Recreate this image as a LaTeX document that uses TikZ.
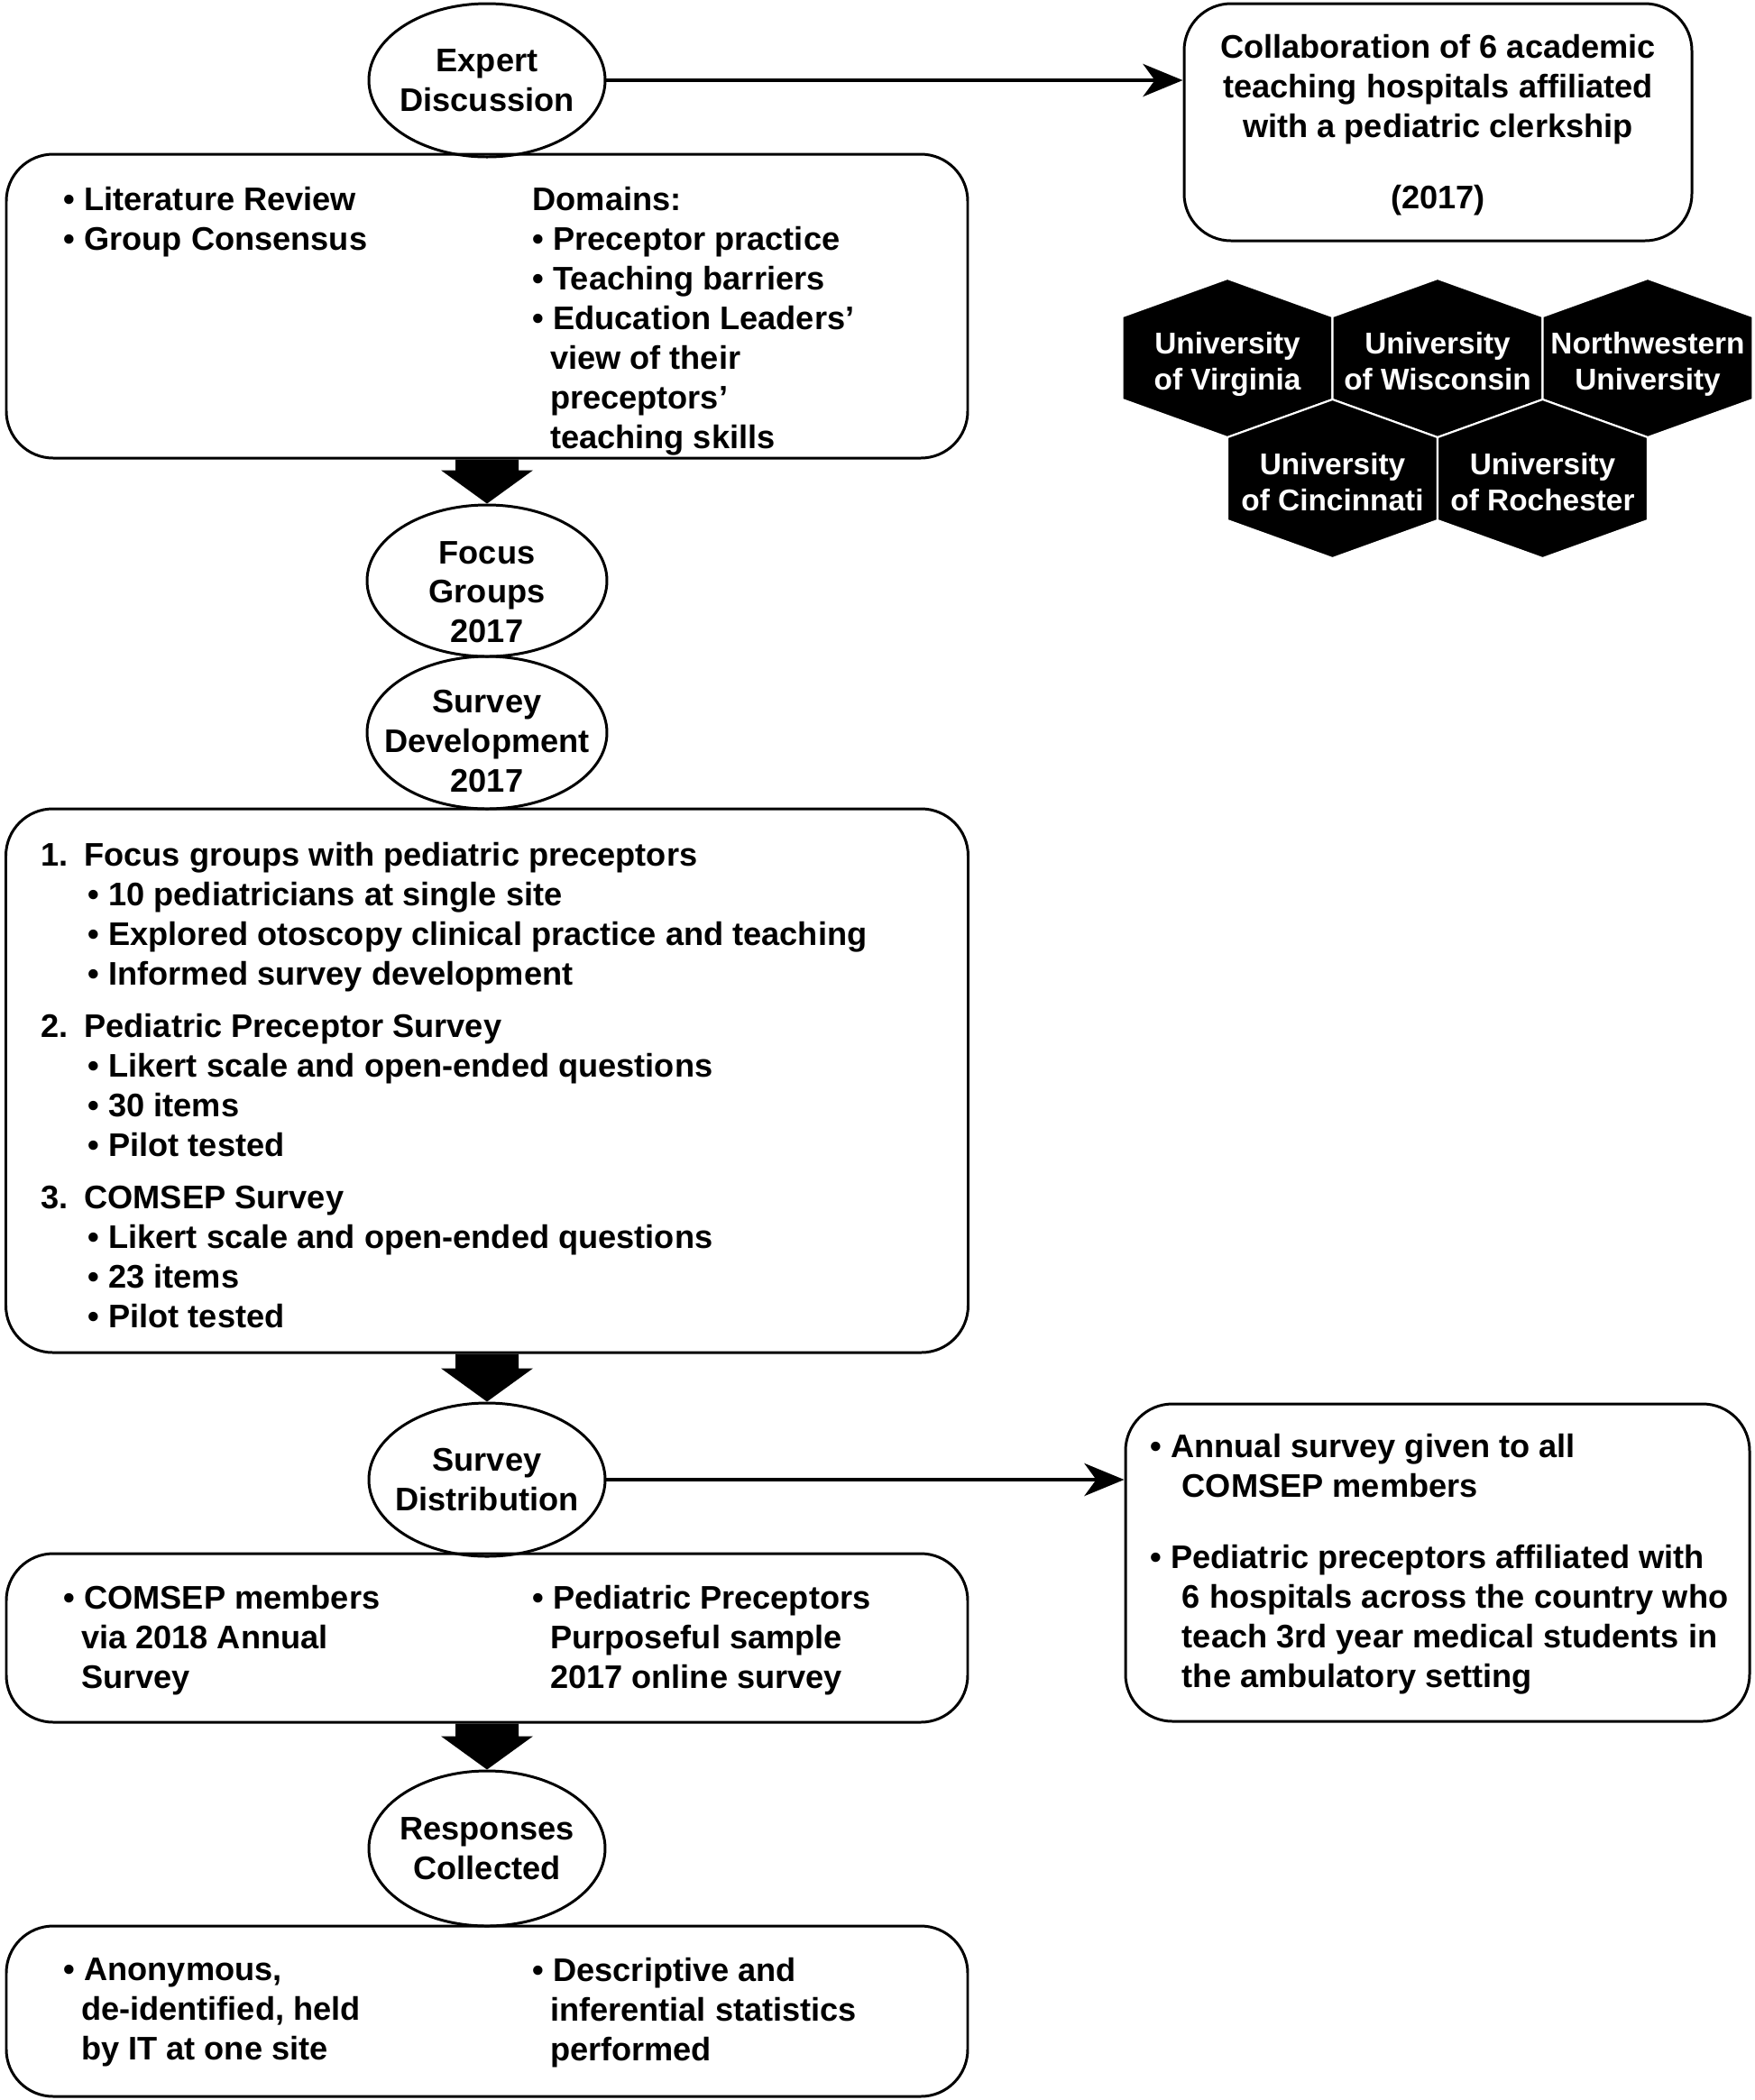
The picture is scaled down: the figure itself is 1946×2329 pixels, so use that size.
\documentclass[tikz,border=0pt]{standalone}
\usepackage{fontspec}
\setmainfont{Liberation Sans}
\usetikzlibrary{shapes.geometric,arrows.meta,calc}

\newcommand{\bpt}{\textbullet\ }
\newcommand{\bcont}{\hspace*{5.5pt}}
\newcommand{\blockarrow}[2]{%
    \fill ($(#1)+(-35,0)$) -- ($(#2)+(-35,-37)$) -- ($(#2)+(-51,-37)$) -- (#2)
        -- ($(#2)+(51,-37)$) -- ($(#2)+(35,-37)$) -- ($(#1)+(35,0)$) -- cycle;}

\tikzset{
    panel/.style={draw, line width=0.85pt, rounded corners=5.2mm, inner sep=0pt},
    bubble/.style={draw, ellipse, line width=0.85pt, inner sep=-2mm, align=center},
    txt/.style={anchor=north west, inner sep=0pt, align=left},
    hexcell/.style={fill=black, draw=white, line width=0.6pt},
    hexlabel/.style={text=white, align=center, anchor=north, inner sep=0pt, font=\bfseries\fontsize{9.5}{11.4}\selectfont},
    flow/.style={line width=1.4pt, -{Stealth[length=4.4mm, width=3.6mm, inset=1.3mm]}}
}

\begin{document}
\begin{tikzpicture}[x=0.1mm, y=-0.1mm, font=\bfseries\fontsize{10.3}{12.5}\selectfont]
            \useasboundingbox (0,0) rectangle (1946,2329);

            \node[bubble, minimum width=26.2mm, minimum height=17mm] (exp) at (540,89) {Expert\\Discussion};
            \node[panel, minimum width=106.6mm, minimum height=33.7mm] (lit) at (540,339.5) {};
            \node[txt] (litl) at (70,207) {\bpt Literature Review\\\bpt Group Consensus};
            \node[txt] (litr) at (590,207) {Domains:\\\bpt Preceptor practice\\\bpt Teaching barriers\\\bpt Education Leaders’\\\bcont view of their\\\bcont preceptors’\\\bcont teaching skills};

            \node[panel, minimum width=56.3mm, minimum height=26.3mm] (collab) at (1594.5,135.5) {};
            \node[anchor=north, inner sep=0pt, align=center] (collabt) at (1594.5,38) {Collaboration of 6 academic\\teaching hospitals affiliated\\with a pediatric clerkship\\[10pt](2017)};
            \draw[flow] (exp.east) -- (exp.east -| collab.west);

            \foreach \cx/\cy/\nm/\lbl in {1361/397/uva/{University\\of Virginia}, 1594/397/uw/{University\\of Wisconsin}, 1827/397/nwu/{Northwestern\\University}, 1477.5/531/uc/{University\\of Cincinnati}, 1710.5/531/ur/{University\\of Rochester}}
                {
                    \filldraw[hexcell] (\cx,\cy-88) -- (\cx+116.5,\cy-46) -- (\cx+116.5,\cy+46) -- (\cx,\cy+88) -- (\cx-116.5,\cy+46) -- (\cx-116.5,\cy-46) -- cycle;
                    \node[hexlabel] (\nm) at (\cx,\cy-29) {\lbl};
                }

            \node[bubble, minimum width=26.6mm, minimum height=16.8mm] (foc) at (540,644) {\rule{0pt}{14.3pt}Focus\\Groups\\2017};
            \node[bubble, minimum width=26.6mm, minimum height=16.9mm] (sdev) at (540,812.5) {\rule{0pt}{12.5pt}Survey\\Development\\2017};
            \blockarrow{lit.south}{foc.north}

            \node[panel, minimum width=106.7mm, minimum height=60.3mm] (dev) at (540,1198.5) {};
            \node[txt] (devt) at (45,934) {1.\hspace{5pt}Focus groups with pediatric preceptors\\
                \hspace*{14.8pt}\bpt 10 pediatricians at single site\\
                \hspace*{14.8pt}\bpt Explored otoscopy clinical practice and teaching\\
                \hspace*{14.8pt}\bpt Informed survey development\\[4pt]
                2.\hspace{5pt}Pediatric Preceptor Survey\\
                \hspace*{14.8pt}\bpt Likert scale and open-ended questions\\
                \hspace*{14.8pt}\bpt 30 items\\
                \hspace*{14.8pt}\bpt Pilot tested\\[4pt]
                3.\hspace{5pt}COMSEP Survey\\
                \hspace*{14.8pt}\bpt Likert scale and open-ended questions\\
                \hspace*{14.8pt}\bpt 23 items\\
                \hspace*{14.8pt}\bpt Pilot tested};

            \node[bubble, minimum width=26.2mm, minimum height=17mm] (sdis) at (540,1641) {Survey\\Distribution};
            \blockarrow{dev.south}{sdis.north}

            \node[panel, minimum width=69.2mm, minimum height=35.2mm] (annual) at (1594,1733) {};
            \node[txt] (annualt) at (1275,1590) {\bpt Annual survey given to all\\\hspace*{10pt}COMSEP members\\[10pt]\bpt Pediatric preceptors affiliated with\\\hspace*{10pt}6 hospitals across the country who\\\hspace*{10pt}teach 3rd year medical students in\\\hspace*{10pt}the ambulatory setting};
            \draw[flow] (sdis.east) -- (sdis.east -| annual.west);

            \node[panel, minimum width=106.6mm, minimum height=18.7mm] (sample) at (540,1816.5) {};
            \node[txt] (samplel) at (70,1758) {\bpt COMSEP members\\\bcont via 2018 Annual\\\bcont Survey};
            \node[txt] (sampler) at (590,1758) {\bpt Pediatric Preceptors\\\bcont Purposeful sample\\\bcont 2017 online survey};

            \node[bubble, minimum width=26.2mm, minimum height=17.2mm] (resp) at (540,2050) {Responses\\Collected};
            \blockarrow{sample.south}{resp.north}

            \node[panel, minimum width=106.6mm, minimum height=18.9mm] (data) at (540,2230.5) {};
            \node[txt] (datal) at (70,2171) {\bpt Anonymous,\\\bcont de-identified, held\\\bcont by IT at one site};
            \node[txt] (datar) at (590,2171) {\bpt Descriptive and\\\bcont inferential statistics\\\bcont performed};
        \end{tikzpicture}
\end{document}
